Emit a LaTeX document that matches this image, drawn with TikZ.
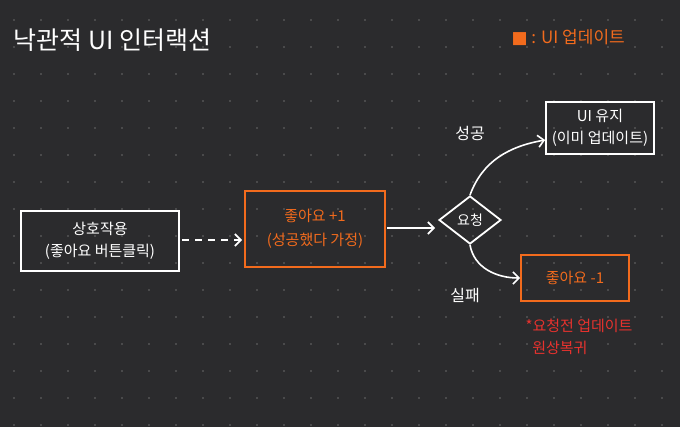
\documentclass[tikz,border=0pt]{standalone}
\usepackage{fontspec}
\setmainfont{Noto Sans CJK KR}
\usetikzlibrary{shapes.geometric,arrows.meta}
\definecolor{bg}{HTML}{2B2B2D}
\definecolor{org}{HTML}{F26B1D}
\definecolor{rd}{HTML}{E8322E}
\tikzset{
 wbox/.style={draw=white,line width=1.8pt,align=center,text=white,font=\fontsize{15}{22}\selectfont},
 obox/.style={draw=org,line width=1.8pt,align=center,text=org,font=\fontsize{15}{24}\selectfont},
 wlab/.style={text=white,font=\fontsize{16}{18}\selectfont},
 arr/.style={white,line width=1.6pt,-{Straight Barb[length=6pt]}},
}
\begin{document}
\begin{tikzpicture}[x=1pt,y=-1pt]
\fill[bg] (0,0) rectangle (680,427);
\useasboundingbox (0,0) rectangle (680,427);
\foreach \i in {0,...,25}{\foreach \j in {0,...,15}{\fill[gray!60] (14+27*\i,20+27*\j) circle (0.7);}}
\node[anchor=west,text=white,font=\fontsize{25}{28}\selectfont] (title) at (10,40) {낙관적 UI 인터랙션};
\node[anchor=west,text=org,font=\fontsize{17}{20}\selectfont] (legend) at (508,38) {{\fontspec{DejaVu Sans}■} : UI 업데이트};
\node[wbox,minimum width=158,minimum height=60] (a) at (100,241) {상호작용\\(좋아요 버튼클릭)};
\node[obox,minimum width=140,minimum height=76] (b) at (315,229) {좋아요 +1\\(성공했다 가정)};
\node[diamond,draw=white,line width=1.8pt,text=white,minimum width=62,minimum height=48,inner sep=0,font=\fontsize{14}{16}\selectfont] (c) at (470,220) {요청};
\node[wbox,minimum width=108,minimum height=52] (d) at (600,128) {UI 유지\\(이미 업데이트)};
\node[obox,minimum width=108,minimum height=46] (e) at (575,278) {좋아요 -1};
\coordinate (aout) at (182,240);
\coordinate (bin) at (242,240);
\draw[white,line width=1.6pt,dash pattern=on 7pt off 6pt,-{Straight Barb[length=6pt]}] (aout) -- (bin);
\coordinate (bout) at (387,228);
\coordinate (cin) at (435,228);
\draw[arr] (bout) -- (cin);
\draw[arr] (c.north) to[out=70,in=190] (d.west |- 0,140);
\draw[arr] (c.south) to[out=-80,in=180] (e.west);
\node[wlab] (s) at (470,133) {성공};
\node[wlab] (f) at (465,296) {실패};
\node[text=rd,align=left,anchor=north west,font=\fontsize{15}{22}\selectfont] (n) at (522,316) {*요청전 업데이트\\\ \ 원상복귀};
\end{tikzpicture}
\end{document}
